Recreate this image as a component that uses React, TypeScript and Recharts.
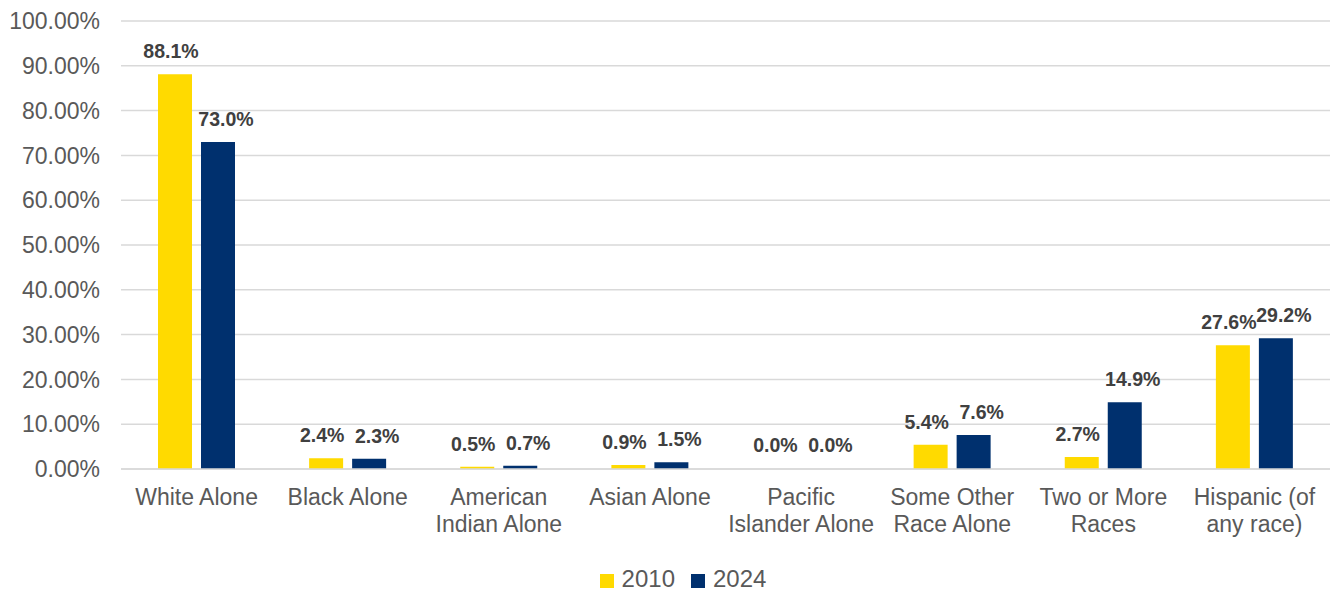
import React from "react";
import { BarChart, Bar, XAxis, YAxis, CartesianGrid, Legend, LabelList, Rectangle } from "recharts";

const categories = [
  "White Alone",
  "Black Alone",
  "American\nIndian Alone",
  "Asian Alone",
  "Pacific\nIslander Alone",
  "Some Other\nRace Alone",
  "Two or More\nRaces",
  "Hispanic (of\nany race)",
];
const values2010 = [88.1, 2.4, 0.5, 0.9, 0.0, 5.4, 2.7, 27.6];
const values2024 = [73.0, 2.3, 0.7, 1.5, 0.0, 7.6, 14.9, 29.2];
const yTicks = [0, 10, 20, 30, 40, 50, 60, 70, 80, 90, 100];

const data = categories.map((c, i) => ({ name: c, y2010: values2010[i], y2024: values2024[i] }));

const FONT = "'Liberation Sans', Arial, sans-serif";

const XTick = (props: any) => {
  const { x, y, payload } = props;
  const lines = String(payload.value).split("\n");
  return (
    <g transform={`translate(${x},${y})`}>
      {lines.map((l, i) => (
        <text key={i} x={0} y={20 + i * 27} textAnchor="middle" dominantBaseline="central" fill="#595959" fontSize={23} fontFamily={FONT}>
          {l}
        </text>
      ))}
    </g>
  );
};

const BarShape = (key: string) => (props: any) => {
  const v = props.payload ? props.payload[key] : 0;
  if (!v) return <g />;
  return <Rectangle {...props} />;
};

const makeLabel = (dx: number) => (props: any) => {
  const { x, y, width, value } = props;
  return (
    <text
      x={Number(x) + Number(width) / 2 + dx}
      y={Number(y) - 16}
      textAnchor="middle"
      fill="#404040"
      fontSize={19.5}
      fontWeight="bold"
      fontFamily={FONT}
    >
      {`${Number(value).toFixed(1)}%`}
    </text>
  );
};

export default function App() {
  return (
    <div style={{ position: "absolute", left: 0, top: 0, width: 1333, height: 593, background: "#fff" }}>
      <BarChart
        width={1333}
        height={593}
        data={data}
        margin={{ top: 21, right: 3, left: 11, bottom: 0 }}
        barSize={34}
        barGap={9}
      >
        <CartesianGrid vertical={false} stroke="#d9d9d9" strokeWidth={1.5} />
        <XAxis
          dataKey="name"
          interval={0}
          tickLine={false}
          axisLine={{ stroke: "#d9d9d9", strokeWidth: 1.5 }}
          tick={<XTick />}
          height={96}
        />
        <YAxis
          domain={[0, 100]}
          ticks={yTicks}
          interval={0}
          width={110}
          tickLine={false}
          axisLine={false}
          tickMargin={15}
          tickFormatter={(v: number) => `${v.toFixed(2)}%`}
          tick={{ fill: "#595959", fontSize: 23, fontFamily: FONT }}
        />
        <Legend
          verticalAlign="bottom"
          height={28}
          iconType="square"
          iconSize={14}
          wrapperStyle={{ fontFamily: FONT, fontSize: 24, left: 596, width: 190, whiteSpace: "nowrap" }}
          formatter={(v: any) => <span style={{ color: "#595959", marginLeft: 4, marginRight: 6 }}>{v}</span>}
        />
        <Bar dataKey="y2010" name="2010" fill="#FFDA00" isAnimationActive={false} minPointSize={1} shape={BarShape("y2010")}>
          <LabelList dataKey="y2010" content={makeLabel(-4)} />
        </Bar>
        <Bar dataKey="y2024" name="2024" fill="#00306E" isAnimationActive={false} minPointSize={1} shape={BarShape("y2024")}>
          <LabelList dataKey="y2024" content={makeLabel(8)} />
        </Bar>
      </BarChart>
    </div>
  );
}
